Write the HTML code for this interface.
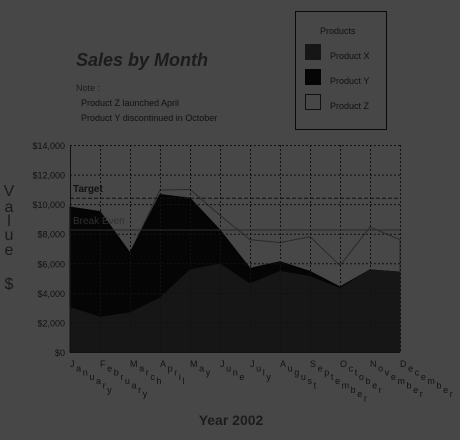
<!DOCTYPE html>
<html><head><meta charset="utf-8"><style>
body{margin:0;background:#474747;}
svg{display:block;font-family:"Liberation Sans",sans-serif;}
</style></head><body>
<svg id="chart" width="460" height="440" viewBox="0 0 460 440">
<rect width="460" height="440" fill="#474747"/>
<text x="76" y="66" font-size="18" font-weight="bold" font-style="italic" fill="#1c1c1c">Sales by Month</text>
<text x="76" y="91" font-size="9" fill="#1c1c1c">Note :</text>
<text x="81" y="106" font-size="9" fill="#111">Product Z launched April</text>
<text x="81" y="121" font-size="9" fill="#111">Product Y discontinued in October</text>
<g>
<rect x="295.5" y="11.5" width="91" height="118" fill="none" stroke="#0a0a0a"/>
<text x="320" y="34" font-size="9" fill="#111">Products</text>
<rect x="305" y="44" width="16" height="16" fill="#161616"/>
<text x="330" y="59" font-size="9" fill="#111">Product X</text>
<rect x="305" y="69" width="16" height="16" fill="#050505"/>
<text x="330" y="84" font-size="9" fill="#111">Product Y</text>
<rect x="305.5" y="94.5" width="15" height="15" fill="#474747" stroke="#111"/>
<text x="330" y="109" font-size="9" fill="#111">Product Z</text>
</g>
<g font-size="16" fill="#1a1a1a" text-anchor="middle">
<text x="9" y="196">V</text><text x="9" y="212">a</text><text x="9" y="226">l</text><text x="9" y="240">u</text><text x="9" y="255">e</text><text x="9" y="289">$</text>
</g>
<text x="231" y="425" font-size="14" font-weight="bold" fill="#1c1c1c" text-anchor="middle">Year 2002</text>
<g id="plot"></g>
</svg>
<script>
const months=["January","February","March","April","May","June","July","August","September","October","November","December"];
const productX=[3000,2350,2650,3650,5550,5950,4600,5450,5100,4300,5550,5400];
const productY=[6800,7150,4050,7000,4850,2300,1050,650,350,100,0,0];
const productZ=[0,0,0,300,600,1000,1950,1300,2350,1450,2900,2200];
const yTicks=[0,2000,4000,6000,8000,10000,12000,14000];
const yTickLabels=["$0","$2,000","$4,000","$6,000","$8,000","$10,000","$12,000","$14,000"];
const targetValue=10400, breakEvenValue=8250;

const NS="http://www.w3.org/2000/svg";
const plot=document.getElementById("plot");
const x0=70,x1=400,yb=352,yt=145,ymax=14000;
const xs=i=>x0+i*(x1-x0)/(months.length-1);
const ys=v=>yb-v*(yb-yt)/ymax;
function mk(tag,attrs,parent){const e=document.createElementNS(NS,tag);for(const k in attrs)e.setAttribute(k,attrs[k]);(parent||plot).appendChild(e);return e;}

const cumX=productX.slice(), cumY=productX.map((v,i)=>v+productY[i]), cumZ=cumY.map((v,i)=>v+productZ[i]);
function area(top,bot,fill,stroke,name){
  let d="M"+top.map((v,i)=>xs(i)+","+ys(v)).join("L");
  for(let i=bot.length-1;i>=0;i--)d+="L"+xs(i)+","+ys(bot[i]);
  const p=mk("path",{d:d+"Z",fill:fill,stroke:stroke,"stroke-width":1});
  
  
}
const zeros=months.map(()=>0);
area(cumZ,cumY,"#474747","#2a2a2a","area-product-z");
area(cumY,cumX,"#050505","#050505","area-product-y");
area(cumX,zeros,"#161616","#161616","area-product-x");

yTicks.forEach((t,i)=>{
  if(t>0){const l=mk("line",{x1:x0,x2:x1,y1:ys(t)+.5,y2:ys(t)+.5,stroke:"#111","stroke-dasharray":"2,2"});
  
  }
  const tx=mk("text",{x:65,y:ys(t)+4,"font-size":9,fill:"#111","text-anchor":"end"});
  tx.textContent=yTickLabels[i];
  
  
});
months.forEach((m,i)=>{
  const l=mk("line",{x1:xs(i)+.5,x2:xs(i)+.5,y1:yt,y2:yb,stroke:"#111","stroke-dasharray":"2,2"});
  
  
  const tx=mk("text",{x:xs(i),y:367,"font-size":9,fill:"#111"});
  
  
  [...m].forEach((c,k)=>{
    const s=mk("tspan",{dx:k?1.6:0,dy:k?4.3:0},tx);
    s.textContent=c;
  });
});
const tl=mk("line",{x1:x0,x2:x1,y1:ys(targetValue),y2:ys(targetValue),stroke:"#111","stroke-dasharray":"4,2"});


const tt=mk("text",{x:73,y:ys(targetValue)-6,"font-size":10,"font-weight":"bold",fill:"#111"});
tt.textContent="Target";


const bl=mk("line",{x1:x0,x2:x1,y1:ys(breakEvenValue),y2:ys(breakEvenValue),stroke:"#2a2a2a"});


const bt=mk("text",{x:73,y:ys(breakEvenValue)-6,"font-size":10,fill:"#303030"});
bt.textContent="Break Even";


const ax=mk("path",{d:"M"+(x0+.5)+","+yt+"V"+(yb+.5)+"H"+x1,fill:"none",stroke:"#111"});


</script>
</body></html>
